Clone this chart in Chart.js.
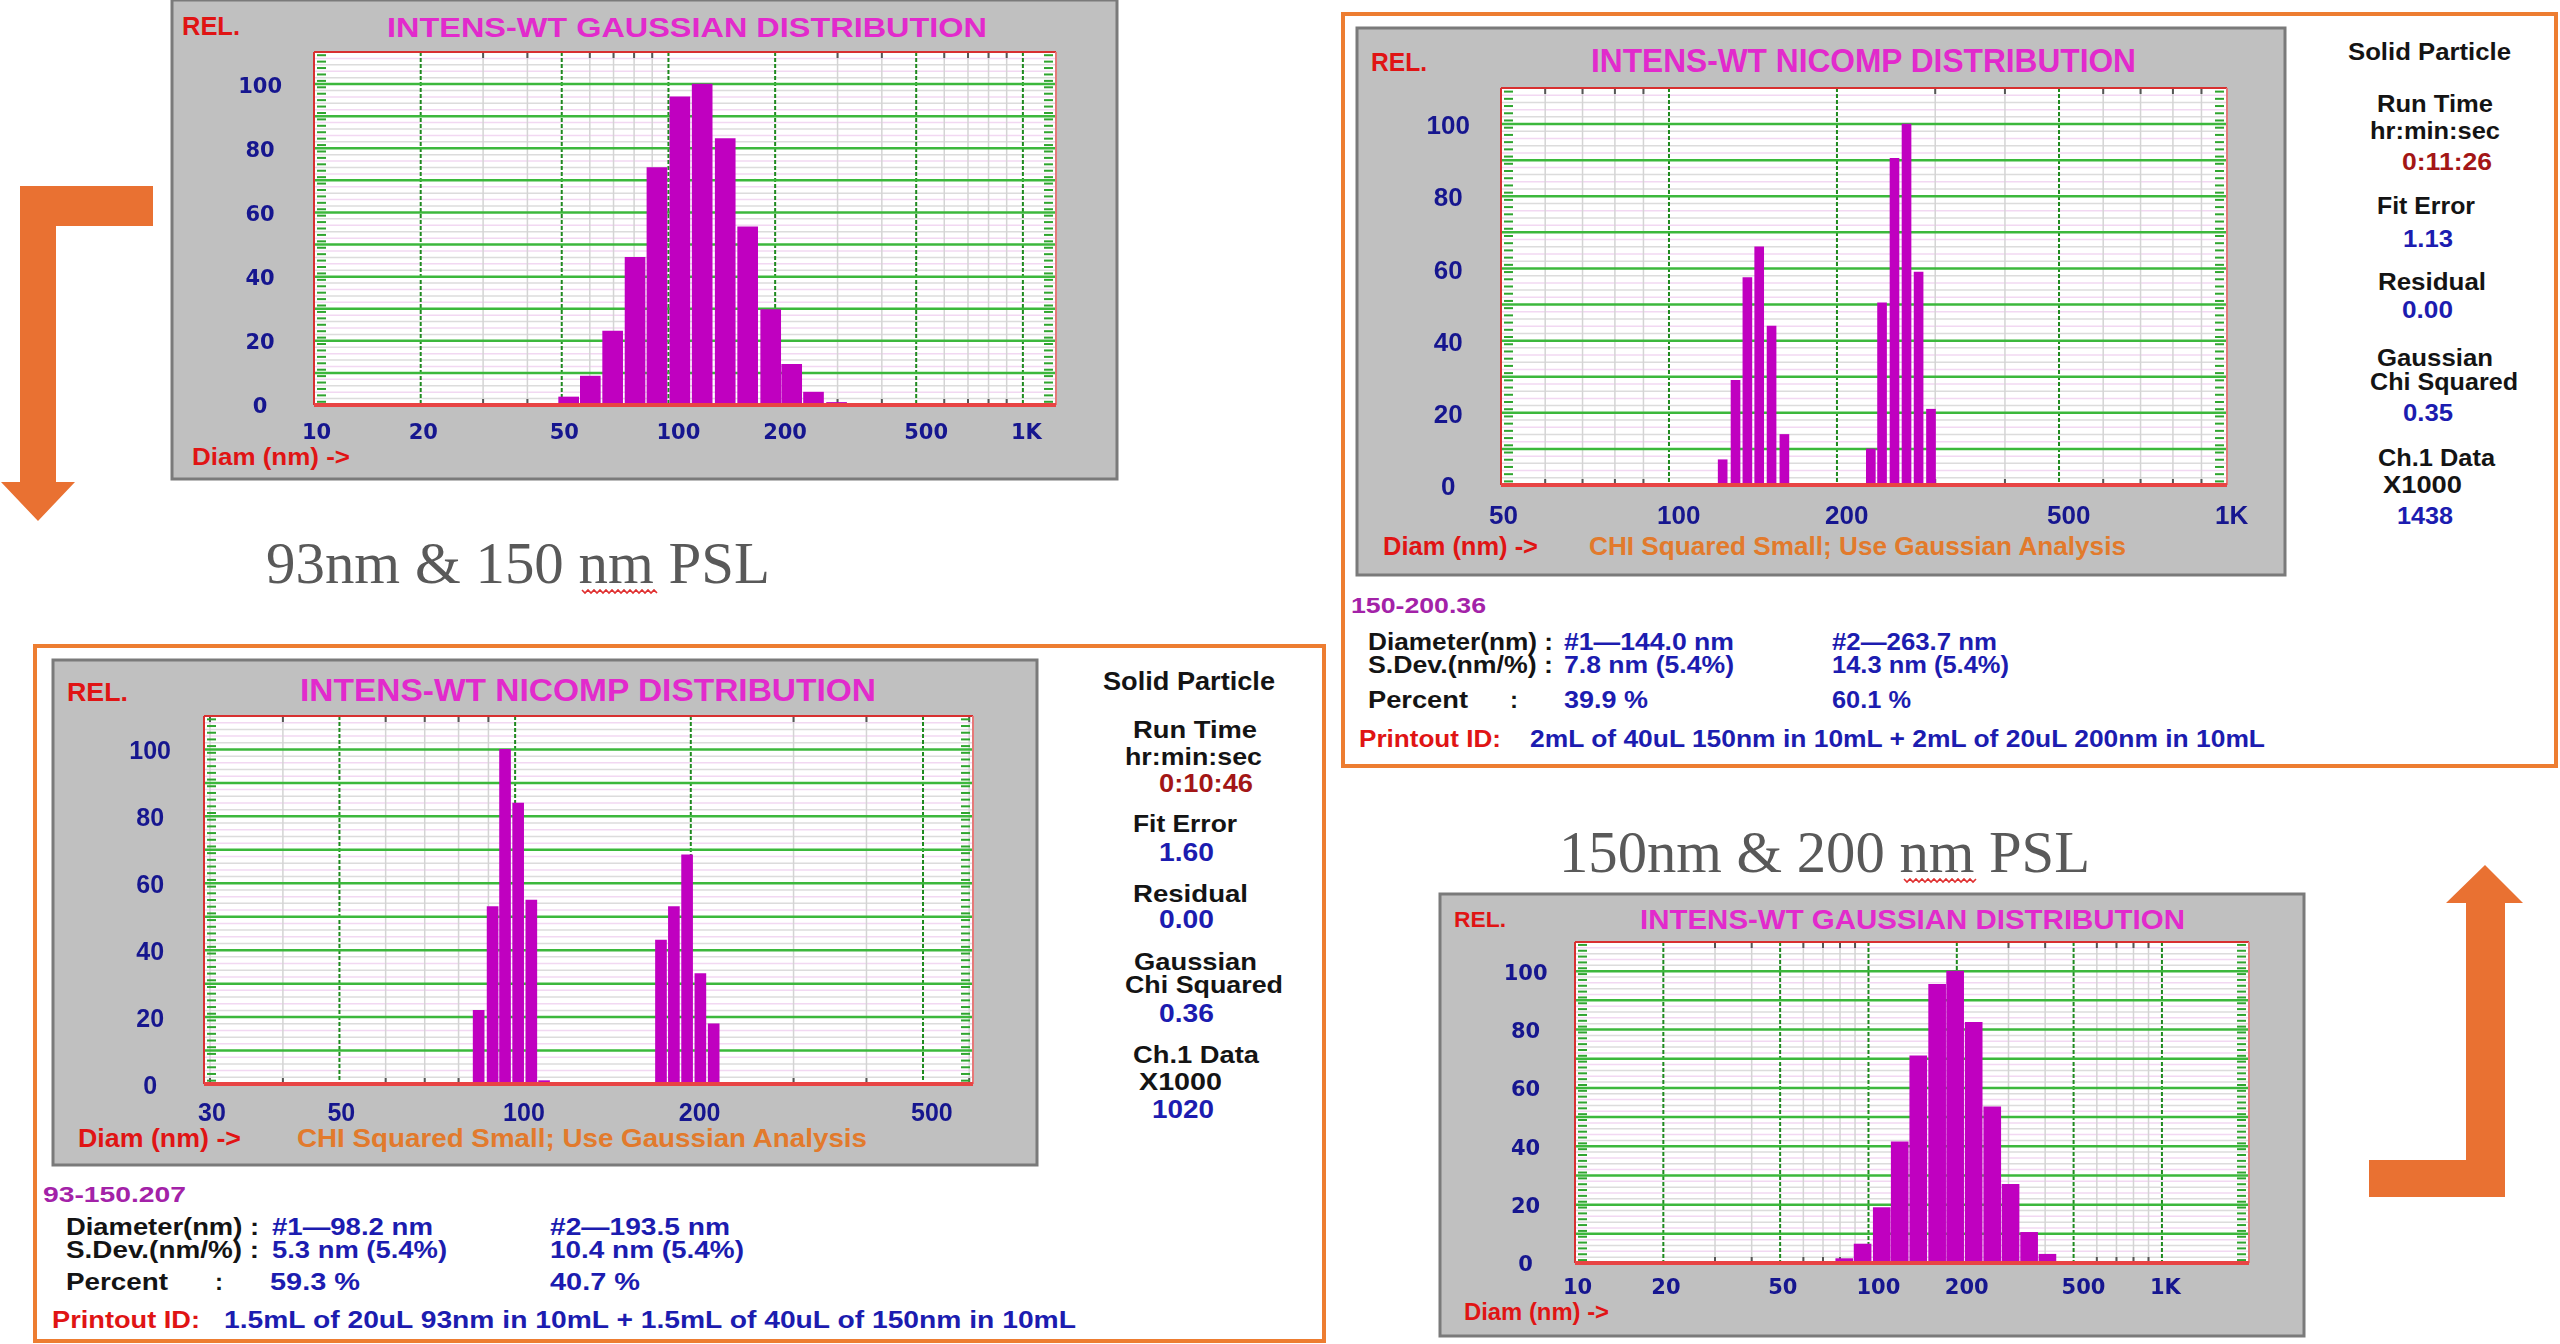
<!DOCTYPE html>
<html>
<head>
<meta charset="utf-8">
<title>NICOMP / Gaussian PSL size distributions</title>
<script src="https://cdn.jsdelivr.net/npm/chart.js@4.4.1/dist/chart.umd.min.js"></script>
<style>
  html, body { margin: 0; padding: 0; background: #fff; }
  #page { position: relative; width: 2560px; height: 1344px; overflow: hidden; background: #fff; }
  #deco { position: absolute; left: 0; top: 0; }
  canvas { position: absolute; }
</style>
</head>
<body>
<div id="page">
  <svg id="deco" width="2560" height="1344" xmlns="http://www.w3.org/2000/svg"></svg>
  <canvas id="gaussLow"></canvas>
  <canvas id="nicompHigh"></canvas>
  <canvas id="nicompLow"></canvas>
  <canvas id="gaussHigh"></canvas>
</div>
<script>
"use strict";

// upper left : Gaussian analysis, 93 nm + 150 nm PSL
var gaussLowDiam = [52.3, 60.2, 69.6, 80.5, 92.8, 107.7, 124.5, 144.6, 167.3, 194.3, 222.7, 256.6, 298.1];
var gaussLowRel  = [2.5, 9, 23, 46, 74, 96, 100, 83, 55.5, 29.7, 12.7, 4, 0.8];

// upper right : NICOMP analysis, 150 nm + 200 nm PSL
var nicompHighDiam = [124.8, 131.6, 138.2, 145.1, 152.7, 161.0, 230.0, 240.9, 253.6, 266.5, 280.1, 294.8];
var nicompHighRel  = [7, 29, 57.5, 66, 44, 14, 10, 50.5, 90.5, 100, 59, 21];

// lower left : NICOMP analysis, 93 nm + 150 nm PSL
var nicompLowDiam = [86.6, 91.5, 96.1, 101.2, 106.6, 112.1, 177.8, 187.1, 197.1, 207.7, 218.9];
var nicompLowRel  = [22, 53, 100, 84, 55, 1, 43, 53, 68.5, 33, 18];

// lower right : Gaussian analysis, 150 nm + 200 nm PSL
var gaussHighDiam = [82.7, 95.5, 111.0, 127.8, 147.8, 171.4, 197.4, 228.3, 264.1, 304.9, 352.7, 407.2];
var gaussHighRel  = [1.5, 6.5, 19, 41.5, 71, 95.5, 100, 82.5, 53.5, 27, 10.5, 3];

// axis ticks
var relTicks      = [0, 20, 40, 60, 80, 100];
var diamTicksWide = [10, 20, 50, 100, 200, 500, 1000];
var diamTicksMid  = [50, 100, 200, 500, 1000];
var diamTicksLow  = [30, 50, 100, 200, 500];


var T_RED = '#e01414', T_MAG = '#e22acc', T_BLUE = '#1c1cb0', T_BLK = '#141414',
    T_DRED = '#a31616', T_PUR = '#a322a8', T_ORG = '#e27a2c', T_TICK = '#16168f';

// x, baseline y, text, font size, target width, colour
var labels = [
  // upper left
  [182, 35, 'REL.', 25, 58, T_RED],
  [387, 37, 'INTENS-WT GAUSSIAN DISTRIBUTION', 28, 600, T_MAG],
  [192, 465, 'Diam (nm) ->', 24, 158, T_RED],
  // upper right
  [1371, 71, 'REL.', 26, 56, T_RED],
  [1591, 72, 'INTENS-WT NICOMP DISTRIBUTION', 33, 545, T_MAG],
  [1383, 555, 'Diam (nm) ->', 26, 155, T_RED],
  [1589, 555, 'CHI Squared Small; Use Gaussian Analysis', 26, 537, T_ORG],
  [2348, 60, 'Solid Particle', 24, 163, T_BLK],
  [2377, 112, 'Run Time', 23, 116, T_BLK],
  [2370, 139, 'hr:min:sec', 23, 130, T_BLK],
  [2402, 170, '0:11:26', 24, 90, T_DRED],
  [2377, 214, 'Fit Error', 23, 98, T_BLK],
  [2403, 247, '1.13', 24, 50, T_BLUE],
  [2378, 290, 'Residual', 23, 108, T_BLK],
  [2402, 318, '0.00', 24, 51, T_BLUE],
  [2377, 366, 'Gaussian', 23, 116, T_BLK],
  [2370, 390, 'Chi Squared', 23, 148, T_BLK],
  [2403, 421, '0.35', 24, 50, T_BLUE],
  [2378, 466, 'Ch.1 Data', 23, 117, T_BLK],
  [2383, 493, 'X1000', 23, 79, T_BLK],
  [2397, 524, '1438', 24, 56, T_BLUE],
  [1351, 613, '150-200.36', 22, 135, T_PUR],
  [1368, 650, 'Diameter(nm) :', 23, 185, T_BLK],
  [1564, 650, '#1\u2014144.0 nm', 23, 170, T_BLUE],
  [1832, 650, '#2\u2014263.7 nm', 23, 165, T_BLUE],
  [1368, 673, 'S.Dev.(nm/%) :', 23, 185, T_BLK],
  [1564, 673, '7.8 nm (5.4%)', 23, 170, T_BLUE],
  [1832, 673, '14.3 nm (5.4%)', 23, 177, T_BLUE],
  [1368, 708, 'Percent', 23, 100, T_BLK],
  [1510, 708, ':', 23, 8, T_BLK],
  [1564, 708, '39.9 %', 23, 84, T_BLUE],
  [1832, 708, '60.1 %', 23, 79, T_BLUE],
  [1359, 747, 'Printout ID:', 23, 142, T_RED],
  [1530, 747, '2mL of 40uL 150nm in 10mL + 2mL of 20uL 200nm in 10mL', 23, 735, T_BLUE],
  // lower left
  [67, 701, 'REL.', 26, 61, T_RED],
  [300, 701, 'INTENS-WT NICOMP DISTRIBUTION', 31, 576, T_MAG],
  [78, 1147, 'Diam (nm) ->', 25, 163, T_RED],
  [297, 1147, 'CHI Squared Small; Use Gaussian Analysis', 25, 570, T_ORG],
  [1103, 690, 'Solid Particle', 25, 172, T_BLK],
  [1133, 738, 'Run Time', 24, 124, T_BLK],
  [1125, 765, 'hr:min:sec', 24, 137, T_BLK],
  [1159, 792, '0:10:46', 25, 94, T_DRED],
  [1133, 832, 'Fit Error', 24, 104, T_BLK],
  [1159, 861, '1.60', 25, 55, T_BLUE],
  [1133, 902, 'Residual', 24, 115, T_BLK],
  [1159, 928, '0.00', 25, 55, T_BLUE],
  [1134, 970, 'Gaussian', 24, 123, T_BLK],
  [1125, 993, 'Chi Squared', 24, 158, T_BLK],
  [1159, 1022, '0.36', 25, 55, T_BLUE],
  [1133, 1063, 'Ch.1 Data', 24, 126, T_BLK],
  [1139, 1090, 'X1000', 24, 83, T_BLK],
  [1152, 1118, '1020', 25, 62, T_BLUE],
  [43, 1202, '93-150.207', 22, 143, T_PUR],
  [66, 1235, 'Diameter(nm) :', 23, 193, T_BLK],
  [272, 1235, '#1\u201498.2 nm', 23, 161, T_BLUE],
  [550, 1235, '#2\u2014193.5 nm', 23, 180, T_BLUE],
  [66, 1258, 'S.Dev.(nm/%) :', 23, 193, T_BLK],
  [272, 1258, '5.3 nm (5.4%)', 23, 175, T_BLUE],
  [550, 1258, '10.4 nm (5.4%)', 23, 194, T_BLUE],
  [66, 1290, 'Percent', 23, 102, T_BLK],
  [215, 1290, ':', 23, 8, T_BLK],
  [270, 1290, '59.3 %', 23, 90, T_BLUE],
  [550, 1290, '40.7 %', 23, 90, T_BLUE],
  [52, 1328, 'Printout ID:', 23, 148, T_RED],
  [224, 1328, '1.5mL of 20uL 93nm in 10mL + 1.5mL of 40uL of 150nm in 10mL', 23, 852, T_BLUE],
  // lower right
  [1454, 927, 'REL.', 22, 52, T_RED],
  [1640, 929, 'INTENS-WT GAUSSIAN DISTRIBUTION', 28, 545, T_MAG],
  [1464, 1320, 'Diam (nm) ->', 24, 145, T_RED]
];


// ---------- static drawing (frames, arrows, text) ----------
var svg = document.getElementById('deco');

function add(tag, attrs, txt) {
  var el = document.createElementNS('http://www.w3.org/2000/svg', tag);
  for (var k in attrs) el.setAttribute(k, attrs[k]);
  if (txt !== undefined) el.textContent = txt;
  svg.appendChild(el);
  return el;
}

// orange frames round the NICOMP printouts
add('rect', {x: 1343, y: 14, width: 1213, height: 752, fill: '#fff', stroke: '#ed7d31', 'stroke-width': 4});
add('rect', {x: 35, y: 646, width: 1289, height: 695, fill: '#fff', stroke: '#ed7d31', 'stroke-width': 4});

// grey instrument panels
[[172, 0, 945, 479], [1357, 28, 928, 547], [53, 660, 984, 505], [1440, 894, 864, 442]].forEach(function (b) {
  add('rect', {x: b[0], y: b[1], width: b[2], height: b[3], fill: '#c0c0c0', stroke: '#7a7a7a', 'stroke-width': 3});
});

// arrows
add('polygon', {fill: '#e97132',
  points: '20,186 153,186 153,226 56,226 56,482 75,482 38,521 1,482 20,482'});
add('polygon', {fill: '#e97132',
  points: '2369,1160 2466,1160 2466,903 2446,903 2485,865 2523,903 2505,903 2505,1197 2369,1197'});

labels.forEach(function (t) {
  add('text', {x: t[0], y: t[1], 'font-family': 'Liberation Sans, Arial, sans-serif', 'font-weight': 'bold',
    'font-size': t[3], fill: t[5], textLength: t[4], lengthAdjust: 'spacingAndGlyphs'}, t[2]);
});

add('text', {x: 266, y: 583, 'font-family': 'Liberation Serif, Times New Roman, serif', 'font-size': 59,
  fill: '#595959', textLength: 504, lengthAdjust: 'spacingAndGlyphs'}, '93nm & 150 nm PSL');
add('text', {x: 1559, y: 872, 'font-family': 'Liberation Serif, Times New Roman, serif', 'font-size': 59,
  fill: '#595959', textLength: 531, lengthAdjust: 'spacingAndGlyphs'}, '150nm & 200 nm PSL');

// spell-check squiggles under "nm"
function squiggle(x0, x1, y) {
  var pts = [], i = 0;
  for (var x = x0; x <= x1; x += 3) { pts.push(x + ',' + (y + (i++ % 2 ? 3 : 0))); }
  add('polyline', {points: pts.join(' '), fill: 'none', stroke: '#e03030', 'stroke-width': 1.6});
}
squiggle(582, 658, 590);
squiggle(1904, 1977, 879);


// ---------- charts ----------
function line(ctx, x0, y0, x1, y1) {
  ctx.beginPath(); ctx.moveTo(x0, y0); ctx.lineTo(x1, y1); ctx.stroke();
}

var plotDecor = {
  id: 'plotDecor',
  beforeDatasetsDraw: function (chart) {
    var ctx = chart.ctx, a = chart.chartArea, xs = chart.scales.x, ys = chart.scales.y;
    var v, py, px, dec, m, val;
    ctx.save();
    ctx.fillStyle = '#ffffff';
    ctx.fillRect(a.left, a.top, a.right - a.left, a.bottom - a.top);

    // faint rulings every 2 %
    ctx.lineWidth = 1.5;
    for (v = 2; v < 110; v += 2) {
      if (v % 10 === 0) continue;
      py = ys.getPixelForValue(v);
      ctx.strokeStyle = (v % 4 === 0) ? '#f2d8f2' : '#dcdcdc';
      line(ctx, a.left, py, a.right, py);
    }

    // log diameter grid
    for (dec = 1; dec <= 1000; dec *= 10) {
      for (m = 1; m <= 9; m++) {
        val = m * dec;
        if (val <= xs.min * 1.01 || val >= xs.max * 0.99) continue;
        px = xs.getPixelForValue(val);
        if (m === 1 || m === 2 || m === 5) {
          ctx.strokeStyle = '#1f8a1f'; ctx.lineWidth = 2; ctx.setLineDash([4, 2]);
          line(ctx, px, a.top, px, a.bottom);
          ctx.setLineDash([]);
        } else {
          ctx.strokeStyle = '#d4d4d4'; ctx.lineWidth = 1.5;
          line(ctx, px, a.top, px, a.bottom);
          ctx.strokeStyle = '#555'; ctx.lineWidth = 2;
          line(ctx, px, a.top, px, a.top + 6);
          line(ctx, px, a.bottom - 6, px, a.bottom);
        }
      }
    }

    // green rulings every 10 %
    ctx.strokeStyle = '#3cb83c'; ctx.lineWidth = 2.5;
    for (v = 10; v < 110; v += 10) {
      py = ys.getPixelForValue(v);
      line(ctx, a.left, py, a.right, py);
    }

    // dashed side scales
    ctx.strokeStyle = '#2fa52f'; ctx.lineWidth = 2;
    for (v = 1; v < 110; v += 2) {
      py = ys.getPixelForValue(v);
      line(ctx, a.left + 3, py, a.left + 12, py);
      line(ctx, a.right - 12, py, a.right - 3, py);
    }
    ctx.restore();
  },
  afterDatasetsDraw: function (chart) {
    var ctx = chart.ctx, a = chart.chartArea;
    ctx.save();
    ctx.strokeStyle = '#d83030'; ctx.lineWidth = 2;
    line(ctx, a.left, a.top, a.right, a.top);
    line(ctx, a.left, a.top, a.left, a.bottom);
    ctx.strokeStyle = '#e67878';
    line(ctx, a.right, a.top, a.right, a.bottom);
    ctx.strokeStyle = '#e84444'; ctx.lineWidth = 4;
    line(ctx, a.left, a.bottom, a.right, a.bottom);
    ctx.restore();
  }
};

function diamLabel(v) { return v >= 1000 ? (v / 1000) + 'K' : String(v); }

function buildChart(p) {
  var cv = document.getElementById(p.id), b = p.box, q = p.plot;
  var yAxisW = q.l - b.x, xAxisH = b.y + b.h - q.b;
  cv.width = b.w; cv.height = b.h;
  cv.style.left = b.x + 'px'; cv.style.top = b.y + 'px';
  cv.style.width = b.w + 'px'; cv.style.height = b.h + 'px';

  var points = p.diam.map(function (d, i) { return {x: d, y: p.rel[i]}; });

  return new Chart(cv.getContext('2d'), {
    type: 'bar',
    data: { datasets: [{ data: points, backgroundColor: '#c000c0', borderWidth: 0, barThickness: p.bar }] },
    options: {
      responsive: false,
      animation: false,
      devicePixelRatio: 1,
      layout: { padding: { left: 0, top: q.t - b.y, right: b.x + b.w - q.r, bottom: 0 } },
      plugins: { legend: { display: false }, tooltip: { enabled: false }, title: { display: false } },
      scales: {
        x: {
          type: 'logarithmic', min: p.min, max: p.max, offset: false,
          grid: { display: false, drawTicks: false }, border: { display: false },
          afterBuildTicks: function (s) { s.ticks = p.ticks.map(function (v) { return {value: v}; }); },
          afterFit: function (s) { s.height = xAxisH; s.paddingLeft = 0; s.paddingRight = 0; },
          ticks: { autoSkip: false, maxRotation: 0, minRotation: 0, align: 'start', labelOffset: -12,
                   padding: p.xPad, color: T_TICK, font: p.font, callback: diamLabel }
        },
        y: {
          type: 'linear', min: 0, max: 110,
          grid: { display: false, drawTicks: false }, border: { display: false },
          afterBuildTicks: function (s) { s.ticks = relTicks.map(function (v) { return {value: v}; }); },
          afterFit: function (s) { s.width = yAxisW; s.paddingTop = 0; s.paddingBottom = 0; },
          ticks: { autoSkip: false, crossAlign: 'center', padding: p.yPad, labelOffset: 3, color: T_TICK, font: p.font }
        }
      }
    },
    plugins: [plotDecor]
  });
}

var wideFont = { family: 'DejaVu Sans', size: 21, weight: 'bold', lineHeight: 1.2 };

[
  { id: 'gaussLow', diam: gaussLowDiam, rel: gaussLowRel, ticks: diamTicksWide, min: 10, max: 1240,
    box: {x: 172, y: 0, w: 945, h: 479}, plot: {l: 314, t: 52, r: 1056, b: 405},
    font: wideFont, xPad: 16, yPad: 32, bar: 20 },
  { id: 'nicompHigh', diam: nicompHighDiam, rel: nicompHighRel, ticks: diamTicksMid, min: 50, max: 1000,
    box: {x: 1357, y: 28, w: 928, h: 547}, plot: {l: 1501, t: 88, r: 2227, b: 485},
    font: { family: 'Liberation Sans', size: 26, weight: 'bold', lineHeight: 1.2 }, xPad: 16, yPad: 31, bar: 9 },
  { id: 'nicompLow', diam: nicompLowDiam, rel: nicompLowRel, ticks: diamTicksLow, min: 29.3, max: 609,
    box: {x: 53, y: 660, w: 984, h: 505}, plot: {l: 204, t: 716, r: 973, b: 1084},
    font: { family: 'Liberation Sans', size: 25, weight: 'bold', lineHeight: 1.2 }, xPad: 15, yPad: 33, bar: 11 },
  { id: 'gaussHigh', diam: gaussHighDiam, rel: gaussHighRel, ticks: diamTicksWide, min: 10, max: 1980,
    box: {x: 1440, y: 894, w: 864, h: 442}, plot: {l: 1575, t: 942, r: 2249, b: 1263},
    font: wideFont, xPad: 13, yPad: 27.5, bar: 17 }
].forEach(buildChart);
</script>
</body>
</html>
